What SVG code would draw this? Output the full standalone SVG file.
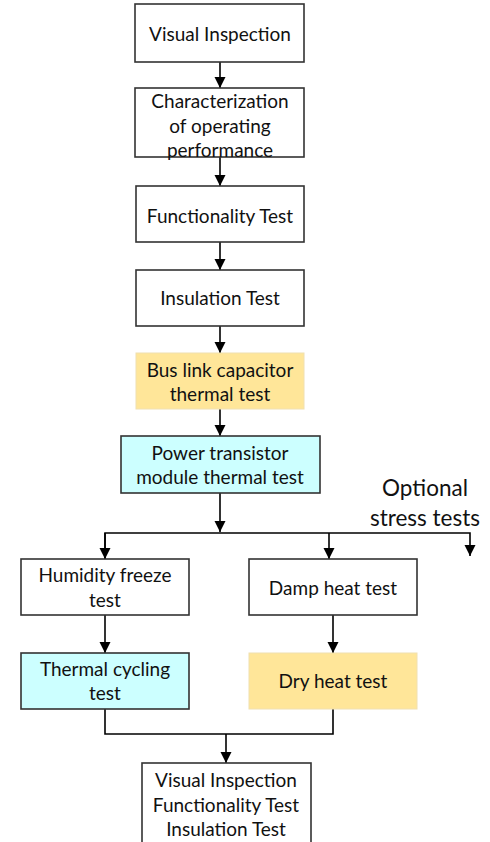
<svg xmlns="http://www.w3.org/2000/svg" width="490" height="842" viewBox="0 0 490 842">
<style>
.box{stroke:#333;stroke-width:1.6;fill:#fff}
.cyan{fill:#ccffff}
.yel{fill:#ffe699;stroke:#f0e0b0;stroke-width:1}
text{font-family:Lato,"Open Sans",sans-serif;font-size:19px;fill:#111;text-anchor:middle;dominant-baseline:central}
.big{font-size:22.5px}
.ln{stroke:#000;stroke-width:1.6;fill:none}
</style>
<defs>
<marker id="ah" viewBox="0 0 10 10" refX="10" refY="5" markerWidth="11" markerHeight="12" markerUnits="userSpaceOnUse" orient="auto">
<path d="M0,0 L10,5 L0,10 Z" fill="#000"/>
</marker>
</defs>
<g id="connectors">
<line class="ln" x1="220" y1="62" x2="220" y2="88" marker-end="url(#ah)"/>
<line class="ln" x1="220" y1="157" x2="220" y2="186" marker-end="url(#ah)"/>
<line class="ln" x1="220" y1="242" x2="220" y2="270" marker-end="url(#ah)"/>
<line class="ln" x1="220" y1="326" x2="220" y2="353" marker-end="url(#ah)"/>
<line class="ln" x1="220" y1="409" x2="220" y2="436" marker-end="url(#ah)"/>
<line class="ln" x1="220" y1="493" x2="220" y2="532" marker-end="url(#ah)"/>
<polyline class="ln" points="105,559 105,533 470,533 470,556" marker-end="url(#ah)"/>
<line class="ln" x1="105" y1="533" x2="105" y2="559" marker-end="url(#ah)"/>
<line class="ln" x1="329" y1="533" x2="329" y2="559" marker-end="url(#ah)"/>
<line class="ln" x1="105" y1="615" x2="105" y2="653" marker-end="url(#ah)"/>
<line class="ln" x1="333" y1="615" x2="333" y2="653" marker-end="url(#ah)"/>
<polyline class="ln" points="105,709 105,734 333,734 333,709"/>
<line class="ln" x1="226" y1="734" x2="226" y2="763" marker-end="url(#ah)"/>
</g>
<g id="n1"><rect class="box" x="135" y="4" width="169" height="58"/><text x="220" y="33">Visual Inspection</text></g>
<g id="n2"><rect class="box" x="135" y="88" width="169" height="69"/><text x="220" y="100">Characterization</text><text x="220" y="125">of operating</text><text x="220" y="149">performance</text></g>
<g id="n3"><rect class="box" x="136" y="186" width="168" height="56"/><text x="220" y="215">Functionality Test</text></g>
<g id="n4"><rect class="box" x="136" y="270" width="168" height="56"/><text x="220" y="297">Insulation Test</text></g>
<g id="n5"><rect class="yel" x="136" y="353" width="168" height="56"/><text x="220" y="369">Bus link capacitor</text><text x="220" y="393">thermal test</text></g>
<g id="n6"><rect class="box cyan" x="121" y="436" width="199" height="57"/><text x="220" y="452">Power transistor</text><text x="220" y="476">module thermal test</text></g>
<g id="label"><text class="big" x="425" y="487">Optional</text><text class="big" x="425" y="517">stress tests</text></g>
<g id="n7"><rect class="box" x="21" y="559" width="168" height="56"/><text x="105" y="574">Humidity freeze</text><text x="105" y="599">test</text></g>
<g id="n8"><rect class="box" x="249" y="559" width="168" height="56"/><text x="333" y="587">Damp heat test</text></g>
<g id="n9"><rect class="box cyan" x="21" y="653" width="168" height="56"/><text x="105" y="668">Thermal cycling</text><text x="105" y="692">test</text></g>
<g id="n10"><rect class="yel" x="249" y="653" width="168" height="56"/><text x="333" y="680">Dry heat test</text></g>
<g id="n11"><rect class="box" x="142" y="763" width="169" height="90"/><text x="226" y="779">Visual Inspection</text><text x="226" y="804">Functionality Test</text><text x="226" y="828">Insulation Test</text></g>
</svg>
